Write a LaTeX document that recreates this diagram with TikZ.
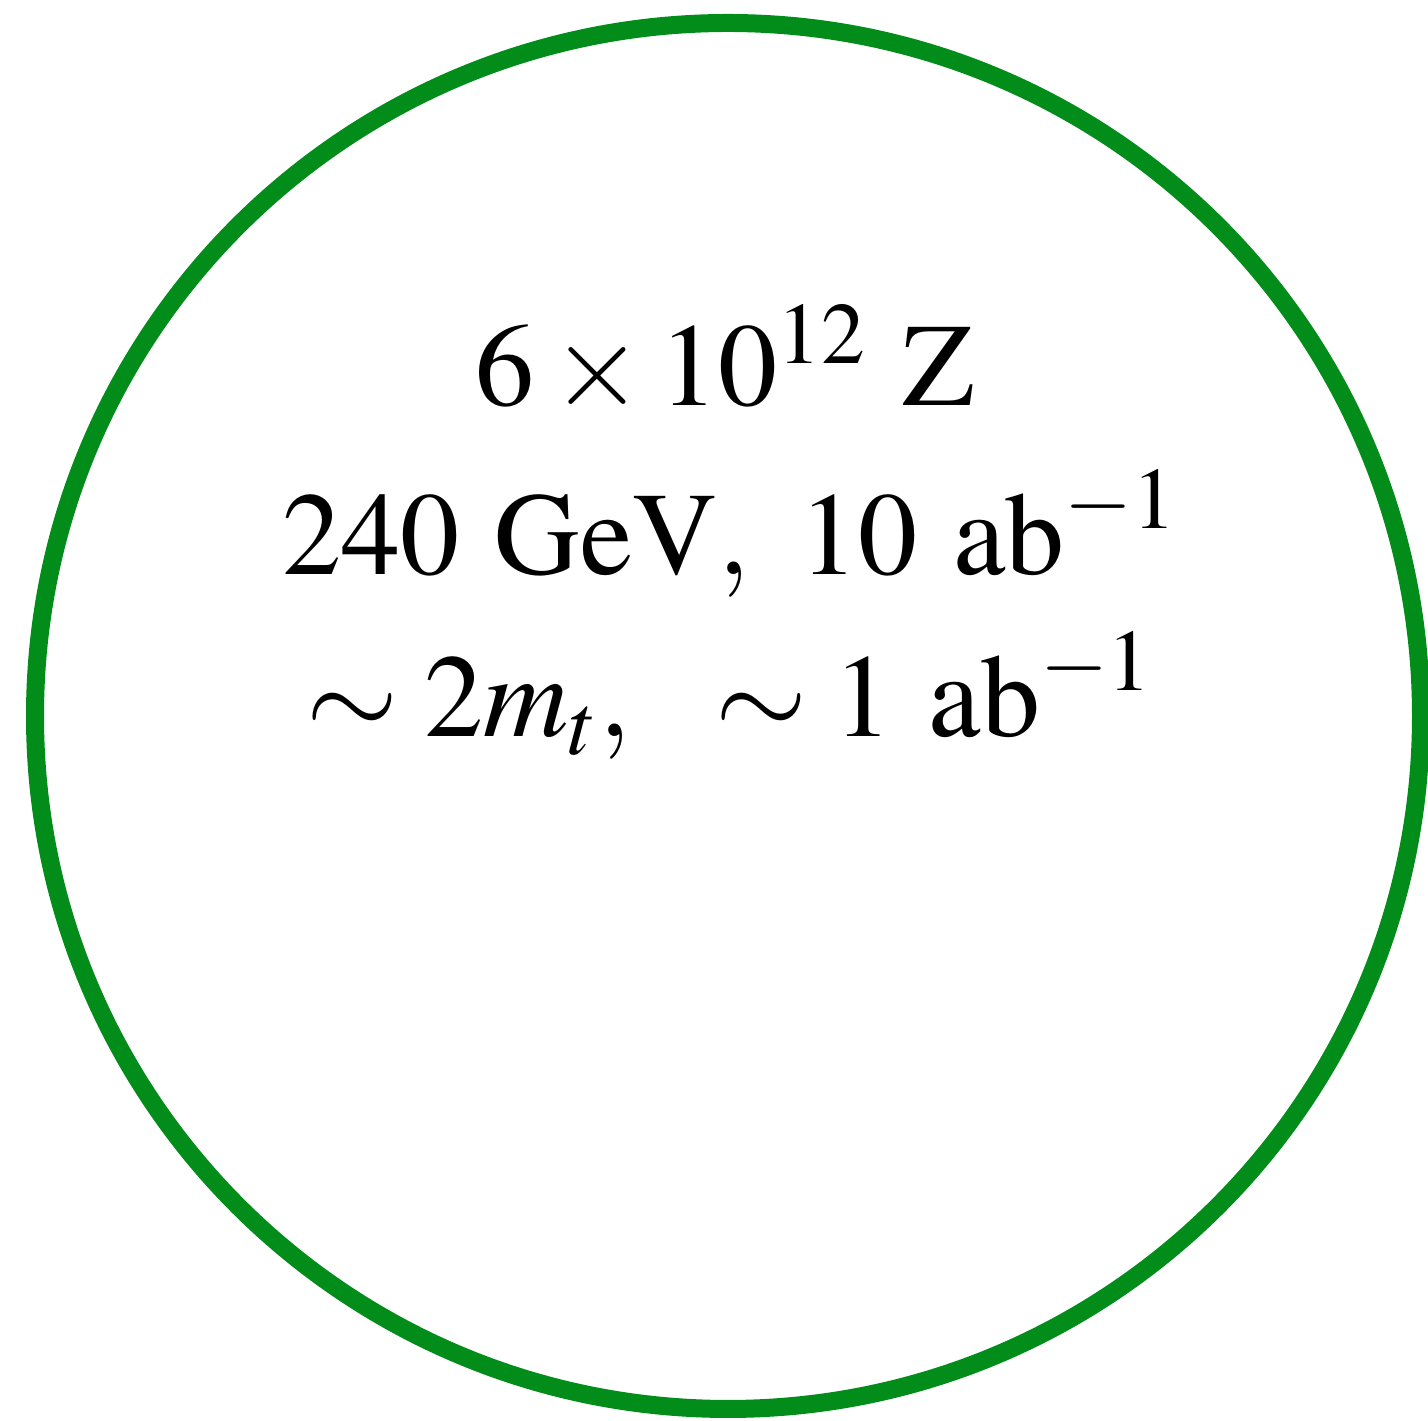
\documentclass[tikz,border=0pt]{standalone}
\usepackage{amsmath}
\usepackage{mathptmx}
\usepackage{tikz}
\usetikzlibrary{positioning}
\definecolor{ringgreen}{RGB}{2,140,26}

\begin{document}
\begin{tikzpicture}[
  ring/.style={draw=ringgreen, line width=1.8mm},
  runlabel/.style={anchor=base, inner sep=0pt, font=\fontsize{33.6}{40}\selectfont},
  every node/.style={font=\fontsize{33.6}{40}\selectfont}]
  % Frame fixed to the reference size; the ring runs past the right and lower edges
  \useasboundingbox (0,0) rectangle (14.28,14.21);
  \clip (0,0) rectangle (14.28,14.21);
  % Ring
  \draw[ring] (7.28,7.05) circle (6.93);
  % Run parameters
  \node[runlabel] (zpole) at (7.25,10.15) {$6\times10^{12}\ \mathrm{Z}$};
  \node[runlabel] (higgs) at (7.30,8.46) {$240\ \mathrm{GeV},\ 10\ \mathrm{ab}^{-1}$};
  \node[runlabel] (ttbar) at (7.30,6.84) {$\sim 2m_t,\ \ \sim 1\ \mathrm{ab}^{-1}$};
\end{tikzpicture}
\end{document}
